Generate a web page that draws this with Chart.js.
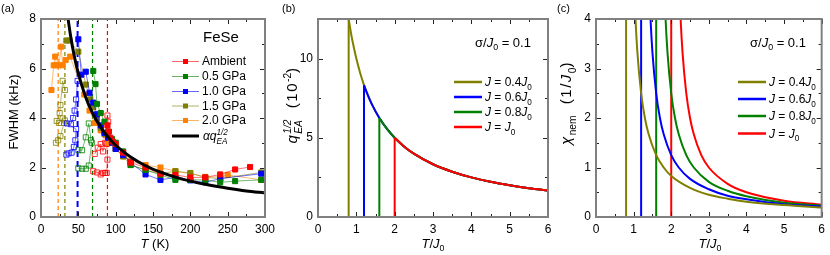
<!DOCTYPE html>
<html>
<head>
<meta charset="utf-8">
<script src="https://cdn.jsdelivr.net/npm/chart.js@4.4.1/dist/chart.umd.min.js"></script>
<style>
  body { margin: 0; background: #fff; width: 830px; height: 255px; position: relative; overflow: hidden; }
  canvas { position: absolute; top: 0; }
</style>
</head>
<body>
<canvas id="pa" width="280" height="255" style="left:0px"></canvas>
<canvas id="pb" width="280" height="255" style="left:280px"></canvas>
<canvas id="pc" width="275" height="255" style="left:555px"></canvas>
<script>
const FAM = '"Liberation Sans", Arial, sans-serif';

// ---- panel (a): FeSe FWHM vs T, points are [T (K), FWHM (kHz)]
const pressures = ['Ambient', '0.5 GPa', '1.0 GPa', '1.5 GPa', '2.0 GPa'];
const pColors = ['#ff0000', '#008000', '#0000ff', '#808000', '#ff8000'];
const tcLines = [89, 69, 49, 32, 23];

const ambientFilled = [[89,3.7],[91,3.45],[93,3.2],[96,3.05],[100,2.95],[110,2.6],[120,2.2],[140,2.0],[160,1.75],[180,1.7],[200,1.6],[220,1.6],[240,1.72],[260,1.92],[280,2.02]];
const ambientOpen = [[70,1.85],[75,1.8],[80,1.72],[83,1.78],[86,1.78],[88,1.78],[89,2.32],[88,2.95],[87,3.3],[90,3.85],[89,4.1],[86,3.0],[83,2.65],[80,2.95],[76,2.8],[72,2.55]];
const gpa05Filled = [[70,5.9],[73,5.37],[75,4.57],[80,4.2],[85,3.85],[90,3.45],[95,3.15],[100,3.0],[110,2.65],[120,2.1],[140,1.9],[160,1.7],[180,1.5],[200,1.5],[220,1.5],[240,1.4],[260,1.45],[295,1.5]];
const gpa05Open = [[50,1.97],[55,1.95],[60,1.95],[64,2.08],[68,3.0],[67,3.1],[64,3.78],[60,3.22],[55,2.7],[50,2.7]];
const gpa10Filled = [[50,7.18],[54,5.75],[60,5.87],[65,5.02],[70,4.62],[75,4.15],[80,3.7],[85,3.4],[90,3.2],[95,3.0],[100,2.75],[110,2.5],[120,2.2],[140,1.72],[160,1.5],[180,1.6],[200,1.48],[220,1.4],[240,1.55],[295,1.75]];
const gpa10Open = [[49,5.5],[47,4.75],[45,4.3],[43,4.0],[40,3.75],[35,3.78],[47,3.55],[46,3.1],[44,2.83],[41,2.6],[37,2.57],[34,2.52]];
const gpa15Filled = [[34,7.13],[38,7.13],[50,6.68],[60,5.35],[66,4.75],[70,4.45],[75,4.0],[80,3.6],[85,3.35],[90,3.2],[100,2.75],[110,2.45],[120,2.1],[140,1.9],[160,1.75],[180,1.85],[200,1.78],[220,1.6],[240,1.55],[295,1.8]];
const gpa15Open = [[32,5.13],[29,5.5],[26,4.52],[25,4.2],[21,3.88],[24,3.8],[29,3.98],[31,3.8],[32,3.9],[26,3.27],[23,3.1],[20,3.0]];
const gpa20Filled = [[14,5.13],[17,6.13],[19,6.48],[21,6.13],[24,6.13],[27,6.88],[29,6.13],[33,6.34],[39,6.48],[58,4.95],[65,4.3],[72,3.8],[80,3.5],[90,3.0],[100,2.75],[110,2.45],[120,2.25],[140,2.1],[160,2.0],[180,1.85],[200,1.75],[220,1.62],[240,1.62],[250,1.7],[295,1.5]];
const qeaCurveT = [36, 40, 45, 50, 60, 70, 80, 90, 100, 120, 140, 160, 180, 200, 225, 250, 275, 300];
const qeaCurveY = [8.06, 7.25, 6.44, 5.8, 4.83, 4.14, 3.63, 3.22, 2.9, 2.42, 2.07, 1.81, 1.61, 1.45, 1.29, 1.16, 1.05, 0.97];

// ---- panels (b) and (c): model curves, x = T/J0
const jLabels = ['0.4', '0.6', '0.8', ''];
const jColors = ['#808000', '#0000ff', '#008000', '#ff0000'];
const tcModel = [0.8, 1.2, 1.6, 2.0];
const qT = [0.8, 0.85, 0.9, 1.0, 1.1, 1.2, 1.3, 1.4, 1.6, 1.8, 2.0, 2.25, 2.5, 3.0, 3.5, 4.0, 4.5, 5.0, 5.5, 6.0];
const qY = [12.5, 11.76, 11.11, 10.0, 9.09, 8.33, 7.69, 7.14, 6.25, 5.56, 5.0, 4.44, 4.0, 3.33, 2.86, 2.5, 2.22, 2.0, 1.82, 1.67];
const chiT = [
  [1.0, 1.05, 1.1, 1.2, 1.3, 1.4, 1.6, 1.8, 2.0, 2.5, 3.0, 3.5, 4.0, 5.0, 6.0],
  [1.4, 1.45, 1.5, 1.6, 1.7, 1.8, 2.0, 2.2, 2.5, 3.0, 3.5, 4.0, 5.0, 6.0],
  [1.8, 1.85, 1.9, 2.0, 2.1, 2.2, 2.4, 2.6, 3.0, 3.5, 4.0, 5.0, 6.0],
  [2.2, 2.25, 2.3, 2.4, 2.5, 2.6, 2.8, 3.0, 3.5, 4.0, 5.0, 6.0]
];
const chiY = [
  [5.0, 4.0, 3.33, 2.5, 2.0, 1.67, 1.25, 1.0, 0.83, 0.59, 0.45, 0.37, 0.31, 0.24, 0.19],
  [5.0, 4.0, 3.33, 2.5, 2.0, 1.67, 1.25, 1.0, 0.77, 0.56, 0.43, 0.36, 0.26, 0.21],
  [5.0, 4.0, 3.33, 2.5, 2.0, 1.67, 1.25, 1.0, 0.71, 0.53, 0.42, 0.29, 0.23],
  [5.0, 4.0, 3.33, 2.5, 2.0, 1.67, 1.25, 1.0, 0.67, 0.5, 0.33, 0.25]
];

function pts(arr) { return arr.map(p => ({ x: p[0], y: p[1] })); }
function zip(xs, ys) { return xs.map((x, i) => ({ x: x, y: ys[i] })); }
function fade(hex, a) {
  const n = parseInt(hex.slice(1), 16);
  return `rgba(${n >> 16},${(n >> 8) & 255},${n & 255},${a})`;
}

// rich text: segments {t, it, sub, sup, ss:[sup, sub]}; spacing only on full-size parts
function segFont(ctx, s, size, spacing) {
  const small = s.ss || s.sub || s.sup;
  ctx.font = `${s.it ? 'italic ' : ''}${small ? size * 0.68 : size}px ${FAM}`;
  ctx.letterSpacing = (!small && spacing) ? spacing + 'px' : '0px';
}
function segWidth(ctx, s) {
  if (s.ss) return Math.max(ctx.measureText(s.ss[0]).width, ctx.measureText(s.ss[1]).width);
  return ctx.measureText(s.t).width;
}
function rich(ctx, segs, x, y, size, align, rot, spacing) {
  ctx.save();
  ctx.translate(x, y);
  if (rot) ctx.rotate(-Math.PI / 2);
  ctx.fillStyle = '#000';
  ctx.textBaseline = 'alphabetic';
  ctx.textAlign = 'left';
  let w = 0;
  for (const s of segs) { segFont(ctx, s, size, spacing); w += segWidth(ctx, s); }
  let cx = align === 'center' ? -w / 2 : 0;
  const base = size * 0.36;
  for (const s of segs) {
    segFont(ctx, s, size, spacing);
    if (s.ss) {
      ctx.fillText(s.ss[0], cx, base - size * 0.45);
      ctx.fillText(s.ss[1], cx, base + size * 0.28);
    } else {
      const dy = s.sub ? size * 0.28 : (s.sup ? -size * 0.42 : 0);
      ctx.fillText(s.t, cx, base + dy);
    }
    cx += segWidth(ctx, s);
  }
  ctx.restore();
}

// frame + inward ticks on all four sides, then the extra text
function makeFrame(o) {
  return {
    id: 'frame',
    afterDatasetsDraw(chart) {
      const { ctx, chartArea: a, scales: { x, y } } = chart;
      ctx.save();
      ctx.strokeStyle = '#222';
      ctx.lineWidth = 1;
      ctx.beginPath();
      const near = (v, s) => Math.abs(v / s - Math.round(v / s)) < 1e-6;
      for (let v = x.min; v <= x.max + 1e-9; v += o.xMinor) {
        const L = near(v, o.xMajor) ? 5 : 3;
        const px = Math.round(x.getPixelForValue(v)) + 0.5;
        ctx.moveTo(px, a.bottom); ctx.lineTo(px, a.bottom - L);
        ctx.moveTo(px, a.top); ctx.lineTo(px, a.top + L);
      }
      for (let v = y.min; v <= y.max + 1e-9; v += o.yMinor) {
        const L = near(v, o.yMajor) ? 5 : 3;
        const py = Math.round(y.getPixelForValue(v)) + 0.5;
        ctx.moveTo(a.left, py); ctx.lineTo(a.left + L, py);
        ctx.moveTo(a.right, py); ctx.lineTo(a.right - L, py);
      }
      ctx.stroke();
      ctx.strokeStyle = '#808080';
      ctx.lineWidth = 2;
      ctx.strokeRect(a.left, a.top, a.width, a.height);
      ctx.restore();
      o.draw(ctx, chart);
    }
  };
}

function baseOptions(xr, yr, yw, padRight, xMajor, yMajor) {
  const tickFont = { family: FAM, size: 12 };
  return {
    responsive: false,
    animation: false,
    layout: { padding: { top: 19, right: padRight, left: 0, bottom: 0 } },
    plugins: { legend: { display: false }, tooltip: { enabled: false } },
    scales: {
      x: {
        type: 'linear', min: xr[0], max: xr[1],
        afterFit(s) { s.height = 38; },
        grid: { display: false, drawTicks: false }, border: { display: false },
        ticks: { stepSize: xMajor, padding: 5, font: tickFont, color: '#000', autoSkip: false, maxRotation: 0, includeBounds: false }
      },
      y: {
        type: 'linear', min: yr[0], max: yr[1],
        afterFit(s) { s.width = yw; },
        grid: { display: false, drawTicks: false }, border: { display: false },
        ticks: { stepSize: yMajor, padding: 5, font: tickFont, color: '#000', autoSkip: false, includeBounds: false }
      }
    }
  };
}

// ---------- (a)
const filledSets = [ambientFilled, gpa05Filled, gpa10Filled, gpa15Filled, gpa20Filled];
const openSets = [ambientOpen, gpa05Open, gpa10Open, gpa15Open, null];
const dsA = [];
dsA.push({
  data: zip(qeaCurveT, qeaCurveY), borderColor: '#000', borderWidth: 3, pointRadius: 0,
  showLine: true, cubicInterpolationMode: 'monotone', order: 0
});
pressures.forEach((p, i) => {
  const c = pColors[i];
  dsA.push({
    data: pts(filledSets[i]), borderColor: fade(c, 0.55), borderWidth: 1, showLine: true,
    pointStyle: 'rect', pointRadius: 3.6, pointBackgroundColor: c, pointBorderColor: c, pointBorderWidth: 1, order: 1
  });
  if (openSets[i]) dsA.push({
    data: pts(openSets[i]), borderColor: fade(c, 0.55), borderWidth: 1, showLine: true,
    pointStyle: 'rect', pointRadius: 3.6, pointBackgroundColor: 'rgba(255,255,255,0)', pointBorderColor: fade(c, 0.8), pointBorderWidth: 1, order: 2
  });
  dsA.push({
    data: [{ x: tcLines[i], y: 0 }, { x: tcLines[i], y: 8 }], borderColor: c, borderWidth: i === 2 ? 2 : 1.2,
    borderDash: i === 2 ? [6, 4] : [4, 3], pointRadius: 0, showLine: true, order: 3
  });
});

new Chart(document.getElementById('pa'), {
  type: 'scatter',
  data: { datasets: dsA },
  options: baseOptions([0, 300], [0, 8], 41, 10, 50, 2),
  plugins: [makeFrame({
    xMajor: 50, xMinor: 25, yMajor: 2, yMinor: 1,
    draw(ctx) {
      ctx.save();
      ctx.fillStyle = '#000';
      ctx.font = `11px ${FAM}`;
      ctx.textBaseline = 'middle';
      ctx.fillText('(a)', 1, 9);
      ctx.font = `15px ${FAM}`;
      ctx.fillText('FeSe', 203, 38);
      const rows = [61, 76, 91, 105.5, 120];
      pressures.forEach((p, i) => {
        ctx.strokeStyle = fade(pColors[i], 0.6);
        ctx.lineWidth = 1;
        ctx.beginPath(); ctx.moveTo(172, rows[i] + 0.5); ctx.lineTo(199, rows[i] + 0.5); ctx.stroke();
        ctx.fillStyle = pColors[i];
        ctx.fillRect(183, rows[i] - 2, 5, 5);
        ctx.fillStyle = '#000';
        ctx.font = `12px ${FAM}`;
        ctx.fillText(p, 202, rows[i] + 1);
      });
      ctx.strokeStyle = '#000'; ctx.lineWidth = 3;
      ctx.beginPath(); ctx.moveTo(172, 136); ctx.lineTo(199, 136); ctx.stroke();
      ctx.restore();
      rich(ctx, [{ t: 'α', it: 1 }, { t: 'q', it: 1 }, { ss: ['1/2', 'EA'], it: 1 }], 203, 136, 12, 'left');
      rich(ctx, [{ t: 'FWHM (kHz)' }], 13, 112, 13, 'center', true);
      rich(ctx, [{ t: 'T', it: 1 }, { t: ' (K)' }], 155, 243, 13, 'center');
    }
  })]
});

// ---------- (b)
const dsB = [];
tcModel.forEach((tc, i) => {
  const c = jColors[i];
  const top = qY[qT.indexOf(tc)];
  dsB.push({
    data: [{ x: 0, y: 0 }, { x: tc, y: 0 }, { x: tc, y: top }], borderColor: c, borderWidth: 2,
    pointRadius: 0, showLine: true, order: 4 - i
  });
  dsB.push({
    data: zip(qT, qY).filter(p => p.x >= tc), borderColor: c, borderWidth: 2,
    pointRadius: 0, showLine: true, cubicInterpolationMode: 'monotone', order: 4 - i
  });
});

function modelLegend(ctx, rows, lx0, lx1, tx) {
  jColors.forEach((c, i) => {
    ctx.save();
    ctx.strokeStyle = c; ctx.lineWidth = 2.5;
    ctx.beginPath(); ctx.moveTo(lx0, rows[i]); ctx.lineTo(lx1, rows[i]); ctx.stroke();
    ctx.restore();
    const segs = jLabels[i]
      ? [{ t: 'J', it: 1 }, { t: ' = ' + jLabels[i] }, { t: 'J', it: 1 }, { t: '0', sub: 1 }]
      : [{ t: 'J', it: 1 }, { t: ' = ' }, { t: 'J', it: 1 }, { t: '0', sub: 1 }];
    rich(ctx, segs, tx, rows[i], 12, 'left');
  });
}

new Chart(document.getElementById('pb'), {
  type: 'scatter',
  data: { datasets: dsB },
  options: baseOptions([0, 6], [0, 12.5], 38, 12, 1, 5),
  plugins: [makeFrame({
    xMajor: 1, xMinor: 0.5, yMajor: 5, yMinor: 2.5,
    draw(ctx) {
      ctx.save();
      ctx.fillStyle = '#000'; ctx.font = `11px ${FAM}`; ctx.textBaseline = 'middle';
      ctx.fillText('(b)', 2, 9);
      ctx.restore();
      rich(ctx, [{ t: 'σ/' }, { t: 'J', it: 1 }, { t: '0', sub: 1 }, { t: ' = 0.1' }], 195, 42, 13, 'left');
      modelLegend(ctx, [82, 97, 112, 127], 174, 202, 205);
      rich(ctx, [{ t: 'q', it: 1 }, { ss: ['1/2', 'EA'], it: 1 }, { t: '  (10' }, { t: '-2', sup: 1 }, { t: ')' }], 12, 105, 15, 'center', true, 1.5);
      rich(ctx, [{ t: 'T', it: 1 }, { t: '/' }, { t: 'J', it: 1 }, { t: '0', sub: 1 }], 153, 243, 13, 'center');
    }
  })]
});

// ---------- (c)
const dsC = [];
tcModel.forEach((tc, i) => {
  const c = jColors[i];
  dsC.push({
    data: [{ x: 0, y: 0 }, { x: tc, y: 0 }, { x: tc, y: 4.2 }], borderColor: c, borderWidth: 2,
    pointRadius: 0, showLine: true, order: i + 1
  });
  dsC.push({
    data: zip(chiT[i], chiY[i]), borderColor: c, borderWidth: 2,
    pointRadius: 0, showLine: true, cubicInterpolationMode: 'monotone', order: i + 1
  });
});

new Chart(document.getElementById('pc'), {
  type: 'scatter',
  data: { datasets: dsC },
  options: baseOptions([0, 6], [0, 4], 41, 5, 1, 1),
  plugins: [makeFrame({
    xMajor: 1, xMinor: 0.5, yMajor: 1, yMinor: 0.5,
    draw(ctx) {
      ctx.save();
      ctx.fillStyle = '#000'; ctx.font = `11px ${FAM}`; ctx.textBaseline = 'middle';
      ctx.fillText('(c)', 2, 9);
      ctx.restore();
      rich(ctx, [{ t: 'σ/' }, { t: 'J', it: 1 }, { t: '0', sub: 1 }, { t: ' = 0.1' }], 195, 42, 13, 'left');
      modelLegend(ctx, [82, 99, 116, 133.5], 183, 211, 214);
      rich(ctx, [{ t: 'χ', it: 1 }, { t: 'nem', sub: 1 }, { t: '  (1/' }, { t: 'J', it: 1 }, { t: '0', sub: 1 }, { t: ')' }], 11, 103, 15, 'center', true, 1.5);
      rich(ctx, [{ t: 'T', it: 1 }, { t: '/' }, { t: 'J', it: 1 }, { t: '0', sub: 1 }], 155, 243, 13, 'center');
    }
  })]
});
</script>
</body>
</html>
